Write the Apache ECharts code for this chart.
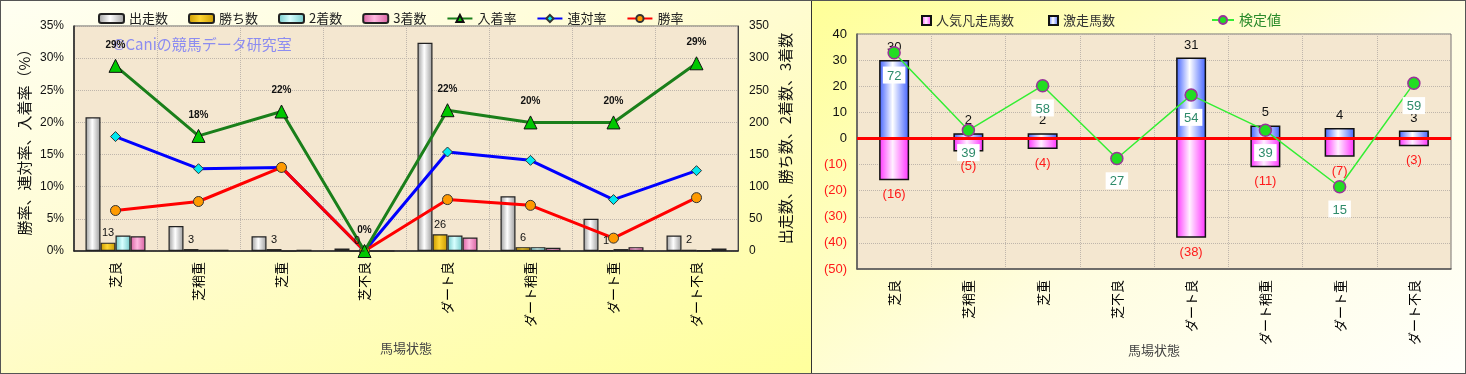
<!DOCTYPE html>
<html>
<head>
<meta charset="utf-8">
<script src="https://cdn.jsdelivr.net/npm/echarts@6/dist/echarts.min.js"></script>
<style>
html,body{margin:0;padding:0;background:#fff;}
#wrap{position:relative;width:1466px;height:374px;overflow:hidden;}
#p1{position:absolute;left:0;top:0;width:811px;height:374px;
  background:linear-gradient(160deg,#fffff2 0%,#fffcd0 45%,#ffff9c 100%);}
#p2{position:absolute;left:812px;top:0;width:654px;height:374px;
  background:linear-gradient(145deg,#ffff98 0%,#fffde0 55%,#fffffa 100%);}
#div{position:absolute;left:811px;top:0;width:1px;height:374px;background:#333;}
#frame{position:absolute;left:0;top:0;width:1464px;height:372px;border:1px solid #555;pointer-events:none;}
</style>
</head>
<body>
<div id="wrap">
  <div id="p1"></div>
  <div id="p2"></div>
  <div id="div"></div>
  <div id="frame"></div>
</div>
<script>
// ---------- data ----------
const categories = ['芝良','芝稍重','芝重','芝不良','ダート良','ダート稍重','ダート重','ダート不良'];
// left chart (counts)
const runs    = [208, 39, 23, 4, 324, 85, 50, 24];
const wins    = [13, 3, 3, 0, 26, 6, 1, 2];
const seconds = [24, 2, 0, 0, 24, 6, 3, 1];
const thirds  = [23, 2, 2, 0, 21, 5, 6, 4];
// left chart (rates, %)
const placeRate   = [28.8, 17.9, 21.7, 0, 21.9, 20.0, 20.0, 29.2];
const rentaiRate  = [17.8, 12.8, 13.0, 0, 15.4, 14.1, 8.0, 12.5];
const winRate     = [6.3, 7.7, 13.0, 0, 8.0, 7.1, 2.0, 8.3];
// right chart
const gekisou = [30, 2, 2, 0, 31, 5, 4, 3];
const bonsou  = [-16, -5, -4, 0, -38, -11, -7, -3];
const kentei  = [72, 39, 58, 27, 54, 39, 15, 59];

const FONT = "'Liberation Sans','Noto Sans CJK JP',sans-serif";
const JFONT = "'Noto Sans CJK JP','Liberation Sans',sans-serif";
const GRIDLINE = {color:'#bfb6ac',type:'dotted',width:1};

function hgrad(edge, mid){
  return new echarts.graphic.LinearGradient(0,0,1,0,[
    {offset:0,color:edge},{offset:0.45,color:mid},{offset:1,color:edge}]);
}

// ---------- left chart ----------
const c1 = document.createElement('div');
c1.style.cssText='position:absolute;left:0;top:0;width:811px;height:374px;';
document.getElementById('wrap').appendChild(c1);
const ch1 = echarts.init(c1, null, {renderer:'canvas'});
const barStyle = (edge, mid) => ({color:hgrad(edge,mid), borderColor:'#222', borderWidth:1.2});
ch1.setOption({
  animation:false,
  textStyle:{fontFamily:JFONT},
  legend:{
    top:7, left:93, itemGap:20, itemWidth:25, itemHeight:9,
    textStyle:{fontSize:13,color:'#222',fontFamily:JFONT},
    data:[
      {name:'出走数',icon:'roundRect'},{name:'勝ち数',icon:'roundRect'},
      {name:'2着数',icon:'roundRect'},{name:'3着数',icon:'roundRect'},
      '入着率','連対率','勝率']
  },
  grid:{left:74,right:73,top:26,bottom:123,show:true,backgroundColor:'#f4e7d0',borderColor:'#666',borderWidth:1},
  graphic:[{type:'text',left:113,top:37,z:1,style:{text:'©Caniの競馬データ研究室',fill:'#8c8cf0',font:"15px 'Noto Sans CJK JP'"}}],
  xAxis:{
    type:'category', data:categories,
    name:'馬場状態', nameLocation:'middle', nameGap:91, nameMoveOverlap:false,
    nameTextStyle:{fontSize:13,color:'#444',fontFamily:JFONT},
    axisLine:{lineStyle:{color:'#222',width:1.5}},
    axisTick:{show:false},
    axisLabel:{rotate:90,margin:11,fontSize:13,color:'#000',fontFamily:JFONT},
    splitLine:{show:true,lineStyle:GRIDLINE}
  },
  yAxis:[
    {type:'value',min:0,max:35,interval:5,
     name:'勝率、連対率、入着率（%）',nameLocation:'middle',nameRotate:90,nameGap:42,nameMoveOverlap:false,
     nameTextStyle:{fontSize:15,color:'#111',fontFamily:JFONT},
     axisLine:{show:true,lineStyle:{color:'#222',width:1.5}},axisTick:{show:false},
     axisLabel:{formatter:'{value}%',fontSize:12,color:'#111',margin:10,fontFamily:FONT},
     splitLine:{show:true,lineStyle:GRIDLINE}},
    {type:'value',min:0,max:350,interval:50,position:'right',
     name:'出走数、勝ち数、2着数、3着数',nameLocation:'middle',nameRotate:90,nameGap:40,nameMoveOverlap:false,
     nameTextStyle:{fontSize:15,color:'#111',fontFamily:JFONT},
     axisLine:{show:true,lineStyle:{color:'#444',width:1}},axisTick:{show:false},
     axisLabel:{fontSize:12,color:'#111',margin:11,fontFamily:FONT},
     splitLine:{show:false}}
  ],
  series:[
    {name:'出走数',type:'bar',yAxisIndex:1,data:runs,barWidth:15,barGap:'0%',
     itemStyle:barStyle('#9a9a9a','#ffffff')},
    {name:'勝ち数',type:'bar',yAxisIndex:1,data:wins,barWidth:15,barGap:'0%',z:6,
     itemStyle:barStyle('#c89800','#ffd633'),
     label:{show:true,position:'top',distance:4,fontSize:11,color:'#111',fontFamily:FONT}},
    {name:'2着数',type:'bar',yAxisIndex:1,data:seconds,barWidth:15,barGap:'0%',
     itemStyle:barStyle('#70c8c8','#d8ffff')},
    {name:'3着数',type:'bar',yAxisIndex:1,data:thirds,barWidth:15,barGap:'0%',
     itemStyle:barStyle('#d860a0','#ffb8e0')},
    {name:'入着率',type:'line',yAxisIndex:0,data:placeRate,z:5,
     lineStyle:{color:'#1a7f1a',width:3},symbol:'triangle',symbolSize:13,
     itemStyle:{color:'#00c800',borderColor:'#111',borderWidth:1},
     label:{show:true,position:'top',distance:9,fontSize:10,fontWeight:'bold',color:'#111',fontFamily:FONT,
       formatter:p=>Math.round(p.value)+'%'}},
    {name:'連対率',type:'line',yAxisIndex:0,data:rentaiRate,z:4,
     lineStyle:{color:'#0000ff',width:3},symbol:'diamond',symbolSize:10,
     itemStyle:{color:'#00e8f0',borderColor:'#333',borderWidth:1}},
    {name:'勝率',type:'line',yAxisIndex:0,data:winRate,z:4,
     lineStyle:{color:'#ff0000',width:3},symbol:'circle',symbolSize:10,
     itemStyle:{color:'#ff9a00',borderColor:'#333',borderWidth:1}}
  ]
});

// ---------- right chart ----------
const c2 = document.createElement('div');
c2.style.cssText='position:absolute;left:812px;top:0;width:654px;height:374px;';
document.getElementById('wrap').appendChild(c2);
const ch2 = echarts.init(c2, null, {renderer:'canvas'});
ch2.setOption({
  animation:false,
  textStyle:{fontFamily:JFONT},
  legend:[
    {left:104,top:9,itemWidth:9,itemHeight:9,textStyle:{fontSize:13,color:'#333',fontFamily:JFONT},
     data:[{name:'人気凡走馬数',icon:'rect'}]},
    {left:231,top:9,itemWidth:9,itemHeight:9,textStyle:{fontSize:13,color:'#333',fontFamily:JFONT},
     data:[{name:'激走馬数',icon:'rect'}]},
    {left:394,top:8,itemWidth:22,itemHeight:10,textStyle:{fontSize:14,color:'#2a8a2a',fontFamily:JFONT},
     data:['検定値']}
  ],
  grid:{left:45,right:15,top:34,bottom:105,show:true,backgroundColor:'#f4e7d0',borderColor:'#777',borderWidth:1},
  xAxis:{
    type:'category',data:categories,
    name:'馬場状態',nameLocation:'middle',nameGap:75,nameMoveOverlap:false,
    nameTextStyle:{fontSize:13,color:'#444',fontFamily:JFONT},
    axisLine:{onZero:false,lineStyle:{color:'#555',width:1.5}},
    axisTick:{show:false},
    axisLabel:{rotate:90,margin:11,fontSize:13,color:'#000',fontFamily:JFONT},
    splitLine:{show:true,lineStyle:GRIDLINE}
  },
  yAxis:[
    {type:'value',min:-50,max:40,interval:10,
     axisLine:{show:true,lineStyle:{color:'#555',width:1.5}},axisTick:{show:false},
     axisLabel:{margin:10,fontSize:13,fontFamily:FONT,
       formatter:v=>v<0?'{n|('+(-v)+')}':'{p|'+v+'}',
       rich:{n:{color:'#ff1a1a',fontSize:13,fontFamily:FONT},p:{color:'#111',fontSize:13,fontFamily:FONT}}},
     splitLine:{show:true,lineStyle:GRIDLINE}},
    {type:'value',min:-20,max:80,show:false,splitLine:{show:false}}
  ],
  series:[
    {name:'人気凡走馬数',type:'bar',stack:'s',data:bonsou,barWidth:30,
     itemStyle:{color:hgrad('#ff30ff','#fff0ff'),borderColor:'#111',borderWidth:1.5},
     label:{show:true,position:'bottom',distance:8,fontSize:13,color:'#ff1a1a',fontFamily:FONT,
       formatter:p=>p.value===0?'':'('+(-p.value)+')'}},
    {name:'激走馬数',type:'bar',stack:'s',data:gekisou,barWidth:30,
     itemStyle:{color:hgrad('#4060ff','#ffffff'),borderColor:'#111',borderWidth:1.5},
     label:{show:true,position:'top',distance:6,fontSize:13,color:'#111',fontFamily:FONT,
       formatter:p=>p.value===0?'':String(p.value)},
     markLine:{silent:true,symbol:'none',label:{show:false},
       lineStyle:{color:'#ff0000',width:3,type:'solid'},data:[{yAxis:0}]}},
    {name:'検定値',type:'line',yAxisIndex:1,data:kentei,z:10,
     lineStyle:{color:'#33ee33',width:1.5},symbol:'circle',symbolSize:12,
     itemStyle:{color:'#22dd22',borderColor:'#993399',borderWidth:1.5},
     label:{show:true,position:'bottom',distance:7,fontSize:13,color:'#2e8b6a',fontFamily:FONT,
       backgroundColor:'#ffffff',padding:[3,4,1,4]}}
  ]
});
</script>
</body>
</html>
